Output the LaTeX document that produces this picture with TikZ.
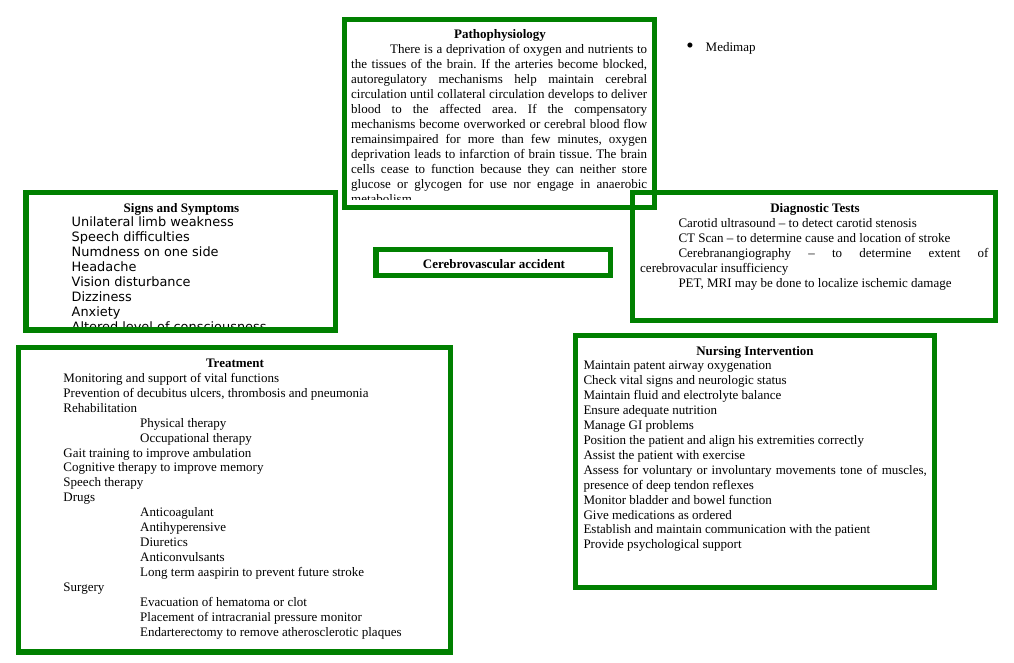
\documentclass[tikz,border=0pt]{standalone}
\usepackage{fontspec}
\setmainfont{Liberation Serif}
\newfontfamily\symsans{DejaVu Sans}
\definecolor{boxgreen}{RGB}{0,128,0}
\tikzset{
  frame/.style={draw=boxgreen, line width=5.5bp},
  txt/.style={inner sep=0pt, anchor=base west, yshift=-1.5bp, font=\fontsize{13bp}{15bp}\selectfont},
  head/.style={inner sep=0pt, anchor=base, yshift=-1.5bp, font=\fontsize{13bp}{15bp}\selectfont\bfseries},
  stxt/.style={inner sep=0pt, anchor=base west, yshift=-1bp, font=\fontsize{12.9bp}{15bp}\selectfont\symsans},
}
\frenchspacing
\begin{document}
\begin{tikzpicture}[x=1bp,y=-1bp]
\useasboundingbox (0,0) rectangle (1014,663);

% ---------- Pathophysiology ----------
\node[head] (pathohead) at (500,37) {Pathophysiology};
\begin{scope}
  \clip (347,22) rectangle (652,199.5);
  \node[txt] (p1) at (390,52) {\makebox[257bp][s]{There is a deprivation of oxygen and nutrients to}};
  \node[txt] (p2) at (351,67) {\makebox[296bp][s]{the tissues of the brain. If the arteries become blocked,}};
  \node[txt] (p3) at (351,82) {\makebox[296bp][s]{autoregulatory mechanisms help maintain cerebral}};
  \node[txt] (p4) at (351,97) {\makebox[296bp][s]{circulation until collateral circulation develops to deliver}};
  \node[txt] (p5) at (351,112) {\makebox[296bp][s]{blood to the affected area. If the compensatory}};
  \node[txt] (p6) at (351,127) {\makebox[296bp][s]{mechanisms become overworked or cerebral blood flow}};
  \node[txt] (p7) at (351,142) {\makebox[296bp][s]{remainsimpaired for more than few minutes, oxygen}};
  \node[txt] (p8) at (351,157) {\makebox[296bp][s]{deprivation leads to infarction of brain tissue. The brain}};
  \node[txt] (p9) at (351,172) {\makebox[296bp][s]{cells cease to function because they can neither store}};
  \node[txt] (p10) at (351,187) {\makebox[296bp][s]{glucose or glycogen for use nor engage in anaerobic}};
  \node[txt] (p11) at (351,202) {metabolism.};
\end{scope}
\draw[frame] (344.5,19.5) rectangle (654.5,207.5);

% ---------- Medimap ----------
\node[inner sep=0pt, anchor=center, font=\fontsize{21bp}{21bp}\selectfont] (bullet) at (690,48) {\textbullet};
\node[txt] (medimap) at (705.5,50.5) {Medimap};

% ---------- Signs and Symptoms ----------
\node[head] (signshead) at (181.5,210.7) {Signs and Symptoms};
\begin{scope}
  \clip (29,195) rectangle (333,327.5);
  \foreach \lbl [count=\i from 0] in {Unilateral limb weakness, Speech difficulties,
      Numdness on one side, Headache, Vision disturbance, Dizziness, Anxiety,
      Altered level of consciousness}
    \node[stxt] (s\i) at (71.5,225+15.1*\i) {\lbl};
\end{scope}
\draw[frame] (26,192.5) rectangle (335.5,330);

% ---------- Diagnostic Tests ----------
\node[head] (diaghead) at (815,210.7) {Diagnostic Tests};
\node[txt] (d1) at (678.3,225.7) {Carotid ultrasound -- to detect carotid stenosis};
\node[txt] (d2) at (678.3,240.7) {CT Scan -- to determine cause and location of stroke};
\node[txt] (d3) at (678.3,255.7) {\makebox[310bp][s]{Cerebranangiography -- to determine extent of}};
\node[txt] (d4) at (640,270.7) {cerebrovacular insufficiency};
\node[txt] (d5) at (678.3,285.7) {PET, MRI may be done to localize ischemic damage};
\draw[frame] (632.5,192.5) rectangle (995.5,320.5);

% ---------- Cerebrovascular accident ----------
\node[head] (cva) at (494,266.7) {Cerebrovascular accident};
\draw[frame] (376,249.5) rectangle (610.5,275.5);

% ---------- Treatment ----------
\node[head] (treathead) at (235,366) {Treatment};
\foreach \xx/\lbl [count=\i from 0] in {
    63.3/{Monitoring and support of vital functions},
    63.3/{Prevention of decubitus ulcers, thrombosis and pneumonia},
    63.3/{Rehabilitation},
    140/{Physical therapy},
    140/{Occupational therapy},
    63.3/{Gait training to improve ambulation},
    63.3/{Cognitive therapy to improve memory},
    63.3/{Speech therapy},
    63.3/{Drugs},
    140/{Anticoagulant},
    140/{Antihyperensive},
    140/{Diuretics},
    140/{Anticonvulsants},
    140/{Long term aaspirin to prevent future stroke},
    63.3/{Surgery},
    140/{Evacuation of hematoma or clot},
    140/{Placement of intracranial pressure monitor},
    140/{Endarterectomy to remove atherosclerotic plaques}}
  \node[txt] (t\i) at (\xx,380.7+14.96*\i) {\lbl};
\draw[frame] (18.5,347.5) rectangle (450.5,652);

% ---------- Nursing Intervention ----------
\node[head] (nurshead) at (755,354) {Nursing Intervention};
\foreach \lbl [count=\i from 0] in {
    {Maintain patent airway oxygenation},
    {Check vital signs and neurologic status},
    {Maintain fluid and electrolyte balance},
    {Ensure adequate nutrition},
    {Manage GI problems},
    {Position the patient and align his extremities correctly},
    {Assist the patient with exercise},
    {\makebox[343.4bp][s]{Assess for voluntary or involuntary movements tone of muscles,}},
    {presence of deep tendon reflexes},
    {Monitor bladder and bowel function},
    {Give medications as ordered},
    {Establish and maintain communication with the patient},
    {Provide psychological support}}
  \node[txt] (n\i) at (583.3,368.3+14.92*\i) {\lbl};
\draw[frame] (575.5,335.5) rectangle (934.5,587.5);
\end{tikzpicture}
\end{document}
